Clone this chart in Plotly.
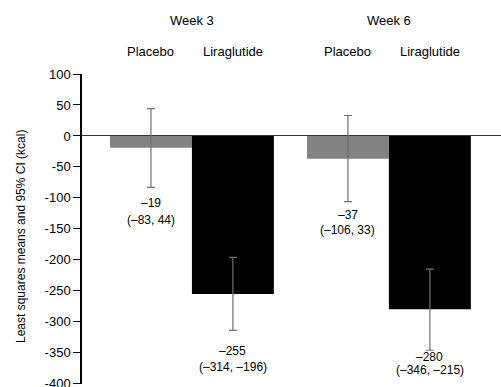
import plotly.graph_objects as go

weeks = ["Week 3", "Week 6"]
groups = ["Placebo", "Liraglutide"]
placebo_mean = [-19, -37]
placebo_lo = [-83, -106]
placebo_hi = [44, 33]
lira_mean = [-255, -280]
lira_lo = [-314, -346]
lira_hi = [-196, -215]
y_ticks = [100, 50, 0, -50, -100, -150, -200, -250, -300, -350, -400]

FONT = "Liberation Sans, Arial, Helvetica, sans-serif"
W, H = 501, 387
L, R, T, B = 82, 0, 74, 3
plot_h = H - T - B

fig = go.Figure()

def add_series(name, means, lo, hi, color):
    fig.add_trace(go.Bar(
        x=weeks, y=means, name=name,
        marker=dict(color=color, line=dict(width=0)),
        error_y=dict(type="data", symmetric=False,
                     array=[h - m for h, m in zip(hi, means)],
                     arrayminus=[m - l for m, l in zip(means, lo)],
                     color="#707070", thickness=1.2, width=4),
    ))

add_series("Placebo", placebo_mean, placebo_lo, placebo_hi, "#828282")
add_series("Liraglutide", lira_mean, lira_lo, lira_hi, "#000000")

# x data positions of bars in grouped mode
half = 0.832 / 4
xpos = {("Placebo", 0): 0 - half, ("Liraglutide", 0): 0 + half,
        ("Placebo", 1): 1 - half, ("Liraglutide", 1): 1 + half}

annots = []
def ypaper(px):
    return 1 - (px - T) / plot_h

def note(x, ypx, text, size, xref="x", angle=0):
    annots.append(dict(x=x, y=ypaper(ypx), xref=xref, yref="paper", text=text,
                       xanchor="center", yanchor="middle", textangle=angle,
                       showarrow=False, font=dict(size=size, family=FONT, color="#000")))

for i, wk in enumerate(weeks):
    note(i, 20.5, wk, 13)
    for g in groups:
        note(xpos[(g, i)], 51.5, g, 13)

def fmt(v):
    return str(v).replace("-", "\u2013")

# value labels (line centres in pixels)
label_px = {("Placebo", 0): (203, 219.5), ("Placebo", 1): (215, 230),
            ("Liraglutide", 0): (351, 367), ("Liraglutide", 1): (357, 370)}
data = {"Placebo": (placebo_mean, placebo_lo, placebo_hi),
        "Liraglutide": (lira_mean, lira_lo, lira_hi)}
for g in groups:
    m, lo, hi = data[g]
    for i in range(2):
        p1, p2 = label_px[(g, i)]
        note(xpos[(g, i)], p1, fmt(m[i]), 12)
        note(xpos[(g, i)], p2, "(" + fmt(lo[i]) + ", " + fmt(hi[i]) + ")", 12)

note(-(L - 20.5) / (W - L - R), 236.5, "Least squares means and 95% CI (kcal)", 12,
     xref="paper", angle=-90)

fig.update_layout(
    width=W, height=H, margin=dict(l=L, r=R, t=T, b=B, autoexpand=False),
    paper_bgcolor="white", plot_bgcolor="white",
    barmode="group", bargap=0.168, bargroupgap=0,
    showlegend=False,
    font=dict(family=FONT, size=13, color="#000"),
    annotations=annots,
    xaxis=dict(type="category", range=[-0.558, 1.569], showticklabels=False,
               showline=False, showgrid=False, zeroline=False, ticks="", automargin=False),
    yaxis=dict(range=[-400.5, 100], tickvals=y_ticks, ticktext=[str(v) for v in y_ticks],
               showgrid=False, zeroline=True, zerolinecolor="#333", zerolinewidth=1,
               showline=True, linecolor="#000", linewidth=1.5, automargin=False,
               ticks="outside", ticklen=7, tickcolor="#000", tickwidth=1.2,
               ticklabeloverflow="allow",
               tickfont=dict(size=13, family=FONT, color="#000")),
)

fig.write_html("out.html", config={"displayModeBar": False},
               post_script="document.body.style.margin='0';document.body.style.overflow='hidden';")
